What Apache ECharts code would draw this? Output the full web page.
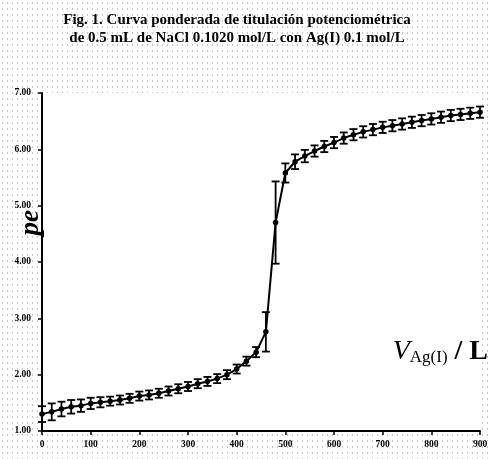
<!DOCTYPE html>
<html>
<head>
<meta charset="utf-8">
<script src="https://cdn.jsdelivr.net/npm/echarts@6/dist/echarts.min.js"></script>
<style>
    html, body { margin: 0; padding: 0; }
    body {
        width: 491px; height: 459px;
        background-color: #fff;
        background-image: radial-gradient(circle, #c4c4c4 0.6px, transparent 0.9px);
        background-size: 5px 6px;
    }
    #chart { width: 491px; height: 459px; }
</style>
</head>
<body>
<div id="chart"></div>
<script>
// volumen de Ag(I) agregado
const volumes = [0, 20, 40, 60, 80, 100, 120, 140, 160, 180, 200, 220, 240, 260, 280, 300, 320, 340, 360, 380,
    400, 420, 440, 460, 480, 500, 520, 540, 560, 580, 600, 620, 640, 660, 680, 700, 720, 740, 760, 780,
    800, 820, 840, 860, 880, 900];
// pe medido
const peValues = [1.30, 1.34, 1.39, 1.43, 1.45, 1.49, 1.51, 1.53, 1.55, 1.58, 1.62, 1.64, 1.67, 1.71, 1.75, 1.79, 1.84, 1.88, 1.93, 2.00,
    2.10, 2.24, 2.40, 2.76, 4.70, 5.58, 5.78, 5.88, 5.97, 6.05, 6.12, 6.20, 6.26, 6.31, 6.35, 6.39, 6.42, 6.45, 6.48, 6.51,
    6.54, 6.57, 6.60, 6.62, 6.64, 6.66];
// incertidumbre (+/-)
const peErrors = [0.14, 0.15, 0.13, 0.12, 0.11, 0.10, 0.09, 0.08, 0.08, 0.08, 0.08, 0.08, 0.08, 0.08, 0.08, 0.08, 0.08, 0.08, 0.08, 0.08,
    0.08, 0.08, 0.09, 0.35, 0.73, 0.17, 0.13, 0.11, 0.10, 0.10, 0.10, 0.10, 0.10, 0.10, 0.10, 0.10, 0.10, 0.10, 0.10, 0.10,
    0.10, 0.10, 0.10, 0.10, 0.10, 0.10];
const yTicks = [1, 2, 3, 4, 5, 6, 7];
const xTicks = [0, 100, 200, 300, 400, 500, 600, 700, 800, 900];

const chart = echarts.init(document.getElementById('chart'));

const lineData = volumes.map((v, i) => [v, peValues[i]]);
const errData = volumes.map((v, i) => [v, peValues[i] - peErrors[i], peValues[i] + peErrors[i]]);

const labelFont = { fontFamily: 'Liberation Serif', fontWeight: 'bold', fontSize: 9.5, color: '#000' };

const option = {
    backgroundColor: 'transparent',
    animation: false,
    title: {
        text: 'Fig. 1. Curva ponderada de titulación potenciométrica\nde 0.5 mL de NaCl 0.1020 mol/L con Ag(I) 0.1 mol/L',
        left: 232,
        top: 6,
        textAlign: 'center',
        textStyle: {
            fontFamily: 'Liberation Serif', fontWeight: 'bold', fontSize: 15, color: '#000', lineHeight: 18
        }
    },
    grid: { left: 42, right: 11, top: 93, bottom: 28, backgroundColor: '#fff', show: true, borderWidth: 0 },
    xAxis: {
        type: 'value',
        min: xTicks[0],
        max: xTicks[xTicks.length - 1],
        interval: 100,
        splitLine: { show: false },
        axisLine: { lineStyle: { color: '#000', width: 2 } },
        axisTick: { length: 4, lineStyle: { color: '#000', width: 1.5 } },
        axisLabel: { ...labelFont, margin: 9 }
    },
    yAxis: {
        type: 'value',
        min: yTicks[0],
        max: yTicks[yTicks.length - 1],
        interval: 1,
        splitLine: { show: false },
        axisLine: { show: true, lineStyle: { color: '#000', width: 2 } },
        axisTick: { show: true, length: 4, lineStyle: { color: '#000', width: 1.5 } },
        axisLabel: { ...labelFont, margin: 11, formatter: (v) => v.toFixed(2) }
    },
    graphic: [
        {
            type: 'text',
            left: 18,
            top: 210,
            rotation: Math.PI / 2,
            style: {
                text: 'pe',
                font: 'italic bold 27px "Liberation Serif"',
                fill: '#000'
            }
        },
        {
            type: 'text',
            right: 3,
            top: 338,
            style: {
                text: '{v|V}{s|Ag(I)}{r| / L}',
                rich: {
                    v: { font: 'italic 28px "Liberation Serif"', fill: '#000', verticalAlign: 'bottom' },
                    s: { font: '17px "Liberation Serif"', fill: '#000', padding: [10, 0, 0, 0], verticalAlign: 'bottom' },
                    r: { font: 'bold 28px "Liberation Serif"', fill: '#000', verticalAlign: 'bottom' }
                }
            }
        }
    ],
    series: [
        {
            type: 'line',
            data: lineData,
            symbol: 'circle',
            symbolSize: 5.5,
            itemStyle: { color: '#000' },
            lineStyle: { color: '#000', width: 2 },
            z: 3
        },
        {
            type: 'custom',
            data: errData,
            z: 4,
            renderItem: (params, api) => {
                const x = api.value(0);
                const lo = api.coord([x, api.value(1)]);
                const hi = api.coord([x, api.value(2)]);
                const cap = 4;
                const style = { stroke: '#000', lineWidth: 1.8 };
                return {
                    type: 'group',
                    children: [
                        { type: 'line', shape: { x1: lo[0], y1: lo[1], x2: hi[0], y2: hi[1] }, style },
                        { type: 'line', shape: { x1: lo[0] - cap, y1: lo[1], x2: lo[0] + cap, y2: lo[1] }, style },
                        { type: 'line', shape: { x1: hi[0] - cap, y1: hi[1], x2: hi[0] + cap, y2: hi[1] }, style }
                    ]
                };
            }
        }
    ]
};

chart.setOption(option);
</script>
</body>
</html>
